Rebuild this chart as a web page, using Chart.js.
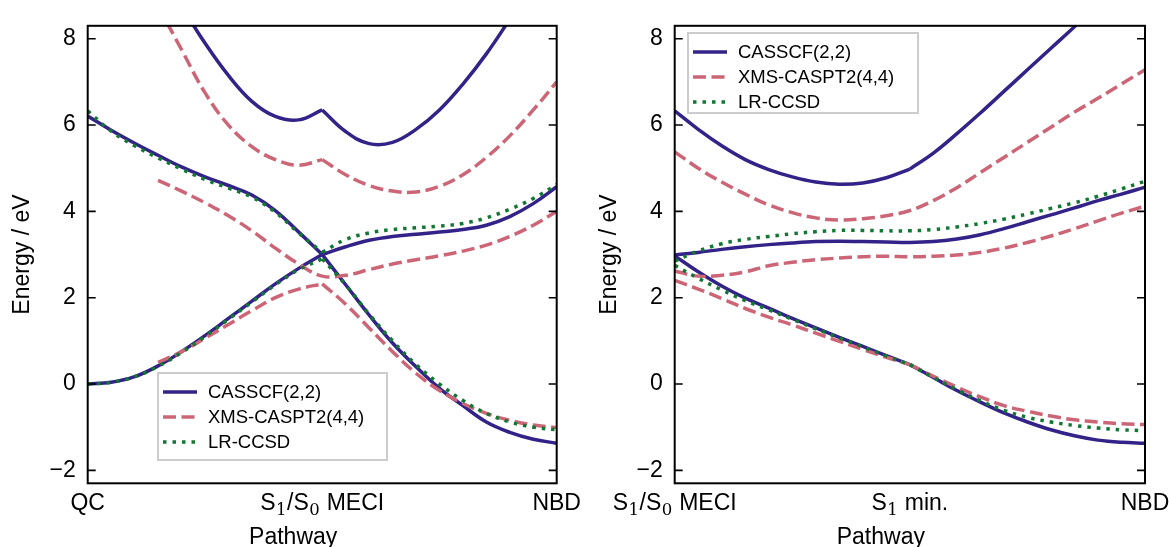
<!DOCTYPE html>
<html><head><meta charset="utf-8">
<script src="https://cdn.jsdelivr.net/npm/chart.js@4"></script>
<style>
body{margin:0;background:#fff;width:1169px;height:547px;overflow:hidden;position:relative;font-family:"Liberation Sans",Arial,sans-serif}
canvas{position:absolute;top:0}
#c1{left:0}
#c2{left:587px}
.legend{position:absolute;background:rgba(255,255,255,0.85);border:2px solid #cccccc;box-sizing:border-box;padding:5px 0 0 4px}
.row{display:flex;align-items:center;height:25px;font-size:18.5px;color:#000;white-space:nowrap}
.row svg{margin-right:11px;flex:none}
</style></head>
<body>
<canvas id="c1" width="588" height="547"></canvas>
<canvas id="c2" width="582" height="547"></canvas>
<div class="legend" id="legL" style="left:157px;top:372px;width:231px;height:89px"></div>
<div class="legend" id="legR" style="left:687px;top:32px;width:232px;height:82px"></div>
<script>
// ---------- data ----------
const xGrid = [0,0.1,0.2,0.3,0.4,0.5,0.6,0.7,0.8,0.9,1,1.1,1.2,1.3,1.4,1.5,1.6,1.7,1.8,1.9,2];
// "_d" marks a subscript character
const xTickLeft = ['QC','S_1/S_0 MECI','NBD'];
const xTickRight = ['S_1/S_0 MECI','S_1 min.','NBD'];
const yTickValues = [-2,0,2,4,6,8];
const methodNames = ['CASSCF(2,2)','XMS-CASPT2(4,4)','LR-CCSD'];
const xTitle = 'Pathway';
const yTitle = 'Energy / eV';

// Left panel: QC -> S1/S0 MECI -> NBD
const casscfLeftS0 = [0,0.04,0.17,0.42,0.75,1.12,1.52,1.92,2.32,2.68,3.0, 2.3,1.6,0.95,0.4,-0.1,-0.5,-0.88,-1.12,-1.28,-1.37];
const casscfLeftS1 = [6.21,5.88,5.58,5.3,5.03,4.8,4.6,4.38,4.02,3.52,3.0, 3.18,3.33,3.42,3.47,3.52,3.58,3.68,3.88,4.18,4.57];
const casscfLeftS2 = [null,null,null,null,8.75,7.9,7.15,6.55,6.2,6.12,6.35, 5.85,5.57,5.6,5.9,6.35,6.95,7.65,8.45,null,null];
const xmsLeftS0 = [null,null,null,0.5,0.75,1.06,1.38,1.7,2.0,2.2,2.32, 1.85,1.3,0.75,0.25,-0.15,-0.45,-0.68,-0.84,-0.95,-1.01];
const xmsLeftS1 = [null,null,null,4.72,4.47,4.2,3.9,3.55,3.15,2.78,2.5, 2.52,2.65,2.78,2.88,2.97,3.08,3.22,3.42,3.68,4.0];
const xmsLeftS2 = [null,null,null,8.75,7.75,6.75,6.0,5.5,5.2,5.07,5.2, 4.85,4.6,4.47,4.45,4.58,4.85,5.25,5.75,6.35,7.0];
const ccsdLeftS0 = [0,0.04,0.17,0.41,0.73,1.1,1.5,1.9,2.3,2.65,2.9, 2.3,1.62,1.0,0.45,0.0,-0.38,-0.68,-0.88,-1.0,-1.06];
const ccsdLeftS1 = [6.33,5.86,5.52,5.24,4.98,4.74,4.54,4.33,3.98,3.5,3.05, 3.35,3.5,3.58,3.62,3.66,3.72,3.85,4.05,4.3,4.62];

// Right panel: S1/S0 MECI -> S1 min. -> NBD
const casscfRightS0 = [2.97,2.6,2.27,1.99,1.76,1.52,1.3,1.08,0.87,0.66,0.45, 0.15,-0.15,-0.42,-0.67,-0.88,-1.06,-1.2,-1.3,-1.35,-1.37];
const casscfRightS1 = [2.99,3.05,3.12,3.18,3.23,3.27,3.3,3.31,3.3,3.29,3.28, 3.3,3.36,3.46,3.6,3.76,3.92,4.08,4.25,4.4,4.56];
const casscfRightS2 = [6.33,5.9,5.52,5.2,4.97,4.8,4.68,4.63,4.66,4.78,4.98, 5.35,5.8,6.28,6.78,7.28,7.78,8.28,8.8,null,null];
const xmsRightS0 = [2.4,2.2,1.98,1.75,1.55,1.37,1.18,0.99,0.8,0.62,0.45, 0.18,-0.07,-0.3,-0.5,-0.63,-0.74,-0.83,-0.88,-0.92,-0.94];
const xmsRightS1 = [2.62,2.5,2.52,2.6,2.74,2.82,2.88,2.92,2.95,2.96,2.95, 2.96,2.99,3.05,3.15,3.28,3.43,3.6,3.78,3.96,4.12];
const xmsRightS2 = [5.38,5.0,4.68,4.4,4.15,3.97,3.85,3.8,3.83,3.9,4.02, 4.25,4.55,4.9,5.25,5.6,5.95,6.3,6.62,6.95,7.28];
const ccsdRightS0 = [2.75,2.45,2.18,1.93,1.72,1.5,1.28,1.07,0.86,0.65,0.45, 0.15,-0.13,-0.39,-0.61,-0.77,-0.88,-0.96,-1.02,-1.06,-1.08];
const ccsdRightS1 = [2.85,3.08,3.25,3.35,3.42,3.48,3.53,3.56,3.56,3.55,3.55, 3.58,3.64,3.72,3.82,3.94,4.07,4.2,4.35,4.52,4.7];

// ---------- styles ----------
const FONT = '"Liberation Sans", Arial, Helvetica, sans-serif';
const SUBFONT = '"DejaVu Serif", serif';
const FS = 23;
const LW = 3.5;
const STYLE = {
  casscf:{color:'#332288', dash:[], order:3},
  xms:{color:'#CC6677', dash:[13,5.5], order:2},
  ccsd:{color:'#117733', dash:[3.5,6], order:1}
};

const leftSeries = [
  {m:'casscf', data:casscfLeftS0, split:true},
  {m:'casscf', data:casscfLeftS1, split:true},
  {m:'casscf', data:casscfLeftS2, split:true},
  {m:'xms', data:xmsLeftS0, split:true},
  {m:'xms', data:xmsLeftS1, split:false},
  {m:'xms', data:xmsLeftS2, split:true},
  {m:'ccsd', data:ccsdLeftS0, split:true},
  {m:'ccsd', data:ccsdLeftS1, split:true}
];
const rightSeries = [
  {m:'casscf', data:casscfRightS0, split:true},
  {m:'casscf', data:casscfRightS1, split:false},
  {m:'casscf', data:casscfRightS2, split:true},
  {m:'xms', data:xmsRightS0, split:true},
  {m:'xms', data:xmsRightS1, split:false},
  {m:'xms', data:xmsRightS2, split:false},
  {m:'ccsd', data:ccsdRightS0, split:true},
  {m:'ccsd', data:ccsdRightS1, split:false}
];

function parseLabel(s){
  const parts = [];
  let buf = '';
  for (let i = 0; i < s.length; i++){
    if (s[i] === '_' && i + 1 < s.length){
      if (buf) { parts.push({t:buf, sub:false}); buf = ''; }
      parts.push({t:s[i+1], sub:true}); i++;
    } else buf += s[i];
  }
  if (buf) parts.push({t:buf, sub:false});
  return parts;
}

const framePlugin = {
  id:'frame',
  afterDraw(chart){
    const {ctx, chartArea:a, scales:{x, y}} = chart;
    ctx.save();
    ctx.strokeStyle = '#000';
    ctx.lineWidth = 1.6;
    y.ticks.forEach(t => {
      const py = y.getPixelForValue(t.value);
      ctx.beginPath();
      ctx.moveTo(a.left, py); ctx.lineTo(a.left + 8, py);
      ctx.moveTo(a.right, py); ctx.lineTo(a.right - 8, py);
      ctx.stroke();
    });
    ctx.lineWidth = 2;
    ctx.strokeRect(a.left, a.top, a.right - a.left, a.bottom - a.top);
    // x tick labels with subscripts, placed by the x scale
    const labels = chart.options.plugins.frame.labels;
    ctx.fillStyle = '#000';
    ctx.textBaseline = 'alphabetic';
    ctx.textAlign = 'left';
    x.ticks.forEach((t, i) => {
      const parts = parseLabel(labels[i]);
      const fonts = parts.map(p => p.sub ? '16.5px ' + SUBFONT : FS + 'px ' + FONT);
      let w = 0;
      const widths = parts.map((p, k) => { ctx.font = fonts[k]; const ww = ctx.measureText(p.t).width + (p.sub ? 1 : 0); w += ww; return ww; });
      let px = x.getPixelForValue(t.value) - w / 2;
      const base = a.bottom + 27;
      parts.forEach((p, k) => {
        ctx.font = fonts[k];
        ctx.fillText(p.t, px + (p.sub ? 0.5 : 0), base + (p.sub ? 4.5 : 0));
        px += widths[k];
      });
    });
    // x axis title
    ctx.font = FS + 'px ' + FONT;
    ctx.textAlign = 'center';
    ctx.fillText(xTitle, x.getPixelForValue(1) - 29, a.bottom + 61);
    ctx.restore();
  }
};

function buildDatasets(series){
  const out = [];
  series.forEach(s => {
    const st = STYLE[s.m];
    const pts = [];
    xGrid.forEach((x,i) => { if (s.data[i] !== null) pts.push({x:x, y:s.data[i]}); });
    const parts = s.split ? [pts.filter(p => p.x <= 1), pts.filter(p => p.x >= 1)] : [pts];
    parts.forEach(p => {
      if (p.length < 2) return;
      out.push({
        data:p, borderColor:st.color, backgroundColor:st.color, borderWidth:LW,
        borderDash:st.dash, borderCapStyle:'butt', pointRadius:0, pointHoverRadius:0,
        tension:0.4, fill:false, clip:0, order:st.order
      });
    });
  });
  return out;
}

function makeChart(id, series, xLabels, padRight){
  new Chart(document.getElementById(id), {
    type:'line',
    data:{datasets:buildDatasets(series)},
    options:{
      responsive:false, animation:false, devicePixelRatio:1,
      layout:{padding:{left:0, right:padRight, top:13.5, bottom:0}},
      plugins:{legend:{display:false}, tooltip:{enabled:false}, frame:{labels:xLabels}},
      events:[],
      scales:{
        x:{
          type:'linear', min:0, max:2,
          grid:{display:false, drawTicks:false}, border:{display:false},
          afterBuildTicks:s => { s.ticks = [0,1,2].map(v => ({value:v})); },
          afterFit:s => { s.height = 63.7; },
          ticks:{display:false},
          title:{display:false}
        },
        y:{
          type:'linear', min:-2.3, max:8.3,
          grid:{display:false, drawTicks:false}, border:{display:false},
          afterBuildTicks:s => { s.ticks = yTickValues.map(v => ({value:v})); },
          afterFit:s => { s.width = 87.7; },
          ticks:{callback:v => String(v).replace('-', '\u2212'), color:'#000', font:{family:FONT, size:FS}, padding:12},
          title:{display:true, text:yTitle, color:'#000', font:{family:FONT, size:FS}, padding:{top:9, bottom:0}}
        }
      }
    },
    plugins:[framePlugin]
  });
}

makeChart('c1', leftSeries, xTickLeft, 588 - 556.7);
makeChart('c2', rightSeries, xTickRight, 24);

function buildLegend(id){
  const el = document.getElementById(id);
  ['casscf','xms','ccsd'].forEach((m,i) => {
    const st = STYLE[m];
    const row = document.createElement('div');
    row.className = 'row';
    const dash = st.dash.length ? ' stroke-dasharray="' + st.dash.join(' ') + '"' : '';
    row.innerHTML = '<svg width="34" height="8"><line x1="0" y1="4" x2="34" y2="4" stroke="' + st.color + '" stroke-width="' + LW + '"' + dash + '/></svg><span>' + methodNames[i] + '</span>';
    el.appendChild(row);
  });
}
buildLegend('legL');
buildLegend('legR');
</script>
</body></html>
